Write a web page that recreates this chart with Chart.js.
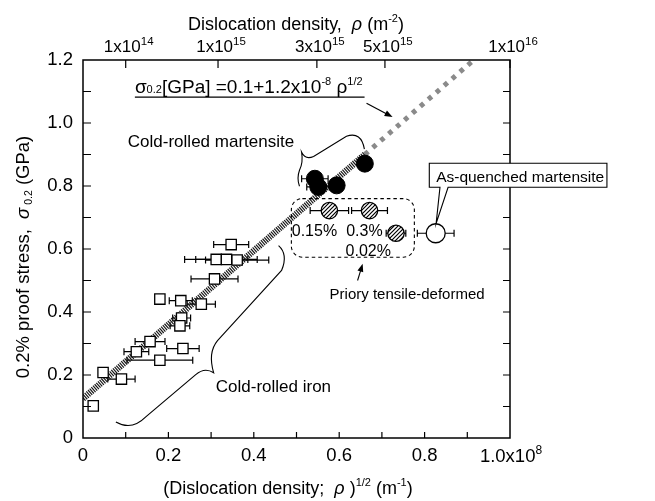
<!DOCTYPE html>
<html>
<head>
<meta charset="utf-8">
<script src="https://cdn.jsdelivr.net/npm/chart.js"></script>
<style>
  body { margin: 0; background: #fff; }
  canvas { display: block; }
</style>
</head>
<body>
<canvas id="c" width="655" height="501"></canvas>
<script>
// x in units of 1e8 m^-1, y in GPa
const ironX = [0.024, 0.047, 0.090, 0.125, 0.157, 0.180, 0.234, 0.180, 0.229, 0.277, 0.231, 0.227, 0.308, 0.312, 0.336, 0.361, 0.347];
const ironY = [0.102, 0.208, 0.187, 0.274, 0.306, 0.247, 0.284, 0.441, 0.436, 0.425, 0.381, 0.356, 0.505, 0.567, 0.567, 0.565, 0.614];
const ironErr = [0, 0, 0.032, 0.029, 0.035, 0.077, 0.038, 0, 0.027, 0.033, 0.021, 0.023, 0.055, 0.074, 0.072, 0.074, 0.041];

const martX = [0.543, 0.551, 0.594, 0.660];
const martY = [0.823, 0.797, 0.802, 0.871];
const martErr = [0.031, 0.027, 0, 0];

const tensX = [0.577, 0.671, 0.733];
const tensY = [0.722, 0.722, 0.650];
const tensErr = [0.045, 0.042, 0.023];
const tensLabels = ['0.15%', '0.3%', '0.02%'];
const tensLabelPos = [[0.542, 0.640], [0.659, 0.640], [0.668, 0.578]];

const quenchX = [0.826];
const quenchY = [0.650];
const quenchErr = [0.043];

// fit line sigma = 0.1 + 1.2e-8 rho^1/2 as drawn
const fitDenseX = [0, 0.66];
const fitDenseY = [0.125, 0.900];
const fitSparseX = [0.66, 0.915];
const fitSparseY = [0.900, 1.200];

const yTicks = [0, 0.2, 0.4, 0.6, 0.8, 1.0, 1.2];
const xTicks = [0, 0.2, 0.4, 0.6, 0.8, 1.0];
const topDensity = [1e14, 1e15, 3e15, 5e15, 1e16];
const topLabels = [['1x10', '14'], ['1x10', '15'], ['3x10', '15'], ['5x10', '15'], ['1x10', '16']];
const topPos = topDensity.map(d => Math.sqrt(d) / 1e8);

const FONT = '"Liberation Sans", Arial, sans-serif';

function pts(xs, ys) { return xs.map((x, i) => ({x: x, y: ys[i]})); }

function hatch() {
  const c = document.createElement('canvas');
  c.width = c.height = 4;
  const g = c.getContext('2d');
  g.fillStyle = '#fff';
  g.fillRect(0, 0, 4, 4);
  g.strokeStyle = '#000';
  g.lineWidth = 1.2;
  g.beginPath();
  g.moveTo(0, 4); g.lineTo(4, 0);
  g.moveTo(-1, 1); g.lineTo(1, -1);
  g.moveTo(3, 5); g.lineTo(5, 3);
  g.stroke();
  return g.createPattern(c, 'repeat');
}

function T(t, s, dy, it) { return {t: t, s: s, dy: dy || 0, it: !!it}; }

function rich(ctx, parts, x, y, align) {
  let w = 0;
  parts.forEach(p => {
    ctx.font = (p.it ? 'italic ' : '') + p.s + 'px ' + FONT;
    p.w = ctx.measureText(p.t).width;
    w += p.w;
  });
  let cx = align === 'center' ? x - w / 2 : align === 'right' ? x - w : x;
  ctx.textAlign = 'left';
  ctx.textBaseline = 'alphabetic';
  parts.forEach(p => {
    ctx.font = (p.it ? 'italic ' : '') + p.s + 'px ' + FONT;
    ctx.fillText(p.t, cx, y + p.dy);
    cx += p.w;
  });
  return w;
}

function arrow(ctx, x1, y1, x2, y2) {
  const a = Math.atan2(y2 - y1, x2 - x1);
  ctx.beginPath();
  ctx.moveTo(x1, y1);
  ctx.lineTo(x2 - 6 * Math.cos(a), y2 - 6 * Math.sin(a));
  ctx.stroke();
  ctx.beginPath();
  ctx.moveTo(x2, y2);
  ctx.lineTo(x2 - 8 * Math.cos(a) + 3 * Math.sin(a), y2 - 8 * Math.sin(a) - 3 * Math.cos(a));
  ctx.lineTo(x2 - 8 * Math.cos(a) - 3 * Math.sin(a), y2 - 8 * Math.sin(a) + 3 * Math.cos(a));
  ctx.closePath();
  ctx.fill();
}

const errorBars = {
  id: 'errorBars',
  beforeDatasetsDraw(chart) {
    const ctx = chart.ctx, xs = chart.scales.x, ys = chart.scales.y;
    const sets = [[ironX, ironY, ironErr], [martX, martY, martErr], [tensX, tensY, tensErr], [quenchX, quenchY, quenchErr]];
    ctx.save();
    ctx.strokeStyle = '#000';
    ctx.lineWidth = 1.2;
    sets.forEach(s => {
      s[0].forEach((x, i) => {
        const e = s[2][i];
        if (!e) return;
        const py = ys.getPixelForValue(s[1][i]);
        const a = xs.getPixelForValue(x - e), b = xs.getPixelForValue(x + e);
        ctx.beginPath();
        ctx.moveTo(a, py); ctx.lineTo(b, py);
        ctx.moveTo(a, py - 3.5); ctx.lineTo(a, py + 3.5);
        ctx.moveTo(b, py - 3.5); ctx.lineTo(b, py + 3.5);
        ctx.stroke();
      });
    });
    ctx.restore();
  }
};

const decorations = {
  id: 'decorations',
  afterDraw(chart) {
    const ctx = chart.ctx, xs = chart.scales.x, ys = chart.scales.y, x2 = chart.scales.x2;
    const ca = chart.chartArea;
    const X = v => xs.getPixelForValue(v), Y = v => ys.getPixelForValue(v);
    ctx.save();
    ctx.strokeStyle = '#000';
    ctx.fillStyle = '#000';

    // frame and inward ticks
    ctx.lineWidth = 1.5;
    ctx.strokeRect(ca.left, ca.top, ca.right - ca.left, ca.bottom - ca.top);
    ctx.lineWidth = 1.2;
    ctx.beginPath();
    for (let k = 1; k < 12; k++) {
      const py = Y(k / 10);
      ctx.moveTo(ca.left, py); ctx.lineTo(ca.left + 8, py);
      ctx.moveTo(ca.right, py); ctx.lineTo(ca.right - 7, py);
    }
    for (let k = 1; k < 10; k++) {
      const px = X(k / 10);
      ctx.moveTo(px, ca.bottom); ctx.lineTo(px, ca.bottom - 6);
    }
    topPos.forEach(v => {
      const px = x2.getPixelForValue(v);
      ctx.moveTo(px, ca.top); ctx.lineTo(px, ca.top + 8);
    });
    ctx.stroke();

    // top axis labels and titles
    topPos.forEach((v, i) => {
      rich(ctx, [T(topLabels[i][0], 17), T(topLabels[i][1], 11.5, -7)], x2.getPixelForValue(v) + 3, ca.top - 8, 'center');
    });
    rich(ctx, [T('1.0x10', 18.5), T('8', 12, -8)], X(1.0) + 1, ca.bottom + 24, 'center');
    rich(ctx, [T('Dislocation density,  ', 18), T('ρ', 18, 0, true), T(' (m', 18), T('-2', 11, -8), T(')', 18)], 296, 30, 'center');
    rich(ctx, [T('(Dislocation density;  ', 18), T('ρ', 18, 0, true), T(' )', 18), T('1/2', 11, -8), T(' (m', 18), T('-1', 11, -8), T(')', 18)], 288, 494, 'center');
    ctx.save();
    ctx.translate(29, 257);
    ctx.rotate(-Math.PI / 2);
    rich(ctx, [T('0.2% proof stress,  ', 18.5), T('σ', 18.5, 0, true), T(' 0.2', 10.5, 3), T(' (GPa)', 18.5)], 0, 0, 'center');
    ctx.restore();

    // formula
    const fw = rich(ctx, [T('σ', 19), T('0.2', 11, 0), T('[GPa] =0.1+1.2x10', 19), T('-8', 11, -8), T(' ρ', 19), T('1/2', 11, -8)], X(0.1215), Y(1.095), 'left');
    ctx.lineWidth = 1.2;
    ctx.beginPath();
    ctx.moveTo(X(0.1215), Y(1.082)); ctx.lineTo(X(0.1215) + fw + 2, Y(1.082));
    ctx.stroke();
    arrow(ctx, X(0.664), Y(1.063), X(0.725), Y(1.019));

    // cold-rolled martensite
    rich(ctx, [T('Cold-rolled martensite', 17)], X(0.105), Y(0.923), 'left');
    ctx.lineWidth = 1.1;
    ctx.beginPath();
    ctx.moveTo(X(0.659), Y(0.917));
    ctx.quadraticCurveTo(X(0.652), Y(0.974), X(0.617), Y(0.958));
    ctx.lineTo(X(0.540), Y(0.894));
    ctx.quadraticCurveTo(X(0.521), Y(0.882), X(0.512), Y(0.907));
    ctx.quadraticCurveTo(X(0.516), Y(0.875), X(0.507), Y(0.850));
    ctx.quadraticCurveTo(X(0.500), Y(0.824), X(0.507), Y(0.799));
    ctx.stroke();

    // cold-rolled iron
    rich(ctx, [T('Cold-rolled iron', 17)], X(0.311), Y(0.146), 'left');
    ctx.beginPath();
    ctx.moveTo(X(0.458), Y(0.611));
    ctx.quadraticCurveTo(X(0.481), Y(0.583), X(0.465), Y(0.532));
    ctx.lineTo(X(0.315), Y(0.309));
    ctx.quadraticCurveTo(X(0.292), Y(0.271), X(0.306), Y(0.207));
    ctx.quadraticCurveTo(X(0.285), Y(0.226), X(0.264), Y(0.201));
    ctx.lineTo(X(0.147), Y(0.067));
    ctx.quadraticCurveTo(X(0.114), Y(0.022), X(0.077), Y(0.051));
    ctx.stroke();

    // priory tensile-deformed group
    tensLabels.forEach((t, i) => rich(ctx, [T(t, 16)], X(tensLabelPos[i][0]), Y(tensLabelPos[i][1]), 'center'));
    ctx.setLineDash([3.5, 3]);
    ctx.beginPath();
    ctx.roundRect(X(0.488), Y(0.760), X(0.776) - X(0.488), Y(0.574) - Y(0.760), 11);
    ctx.stroke();
    ctx.setLineDash([]);
    arrow(ctx, X(0.643), Y(0.500), X(0.655), Y(0.553));
    rich(ctx, [T('Priory tensile-deformed', 15)], X(0.759), Y(0.440), 'center');

    // as-quenched callout
    ctx.beginPath();
    ctx.moveTo(X(0.811), Y(0.872));
    ctx.lineTo(X(1.227), Y(0.872));
    ctx.lineTo(X(1.227), Y(0.796));
    ctx.lineTo(X(0.855), Y(0.796));
    ctx.lineTo(X(0.827), Y(0.681));
    ctx.lineTo(X(0.836), Y(0.796));
    ctx.lineTo(X(0.811), Y(0.796));
    ctx.closePath();
    ctx.fillStyle = '#fff';
    ctx.fill();
    ctx.stroke();
    ctx.fillStyle = '#000';
    rich(ctx, [T('As-quenched martensite', 15.5)], X(0.827), Y(0.812), 'left');
    ctx.restore();
  }
};

new Chart(document.getElementById('c'), {
  type: 'scatter',
  data: {
    datasets: [
      {data: pts(ironX, ironY), pointStyle: 'rect', pointRadius: 7.3, pointBackgroundColor: '#fff', pointBorderColor: '#000', pointBorderWidth: 1.3},
      {data: pts(martX, martY), pointStyle: 'circle', pointRadius: 8.5, pointBackgroundColor: '#000', pointBorderColor: '#000', pointBorderWidth: 1},
      {data: pts(tensX, tensY), pointStyle: 'circle', pointRadius: 8.2, pointBackgroundColor: hatch(), pointBorderColor: '#000', pointBorderWidth: 1.3},
      {data: pts(quenchX, quenchY), pointStyle: 'circle', pointRadius: 9.5, pointBackgroundColor: '#fff', pointBorderColor: '#000', pointBorderWidth: 1.3},
      {type: 'line', data: pts(fitDenseX, fitDenseY), borderColor: '#1a1a1a', borderWidth: 6.5, borderDash: [1.2, 1], borderCapStyle: 'butt', pointRadius: 0, fill: false},
      {type: 'line', data: pts(fitSparseX, fitSparseY), borderColor: '#8a8a8a', borderWidth: 5, borderDash: [4.5, 6], borderCapStyle: 'butt', pointRadius: 0, fill: false}
    ]
  },
  options: {
    responsive: false,
    animation: false,
    layout: {padding: {left: 0, right: 145, top: 0, bottom: 0}},
    plugins: {legend: {display: false}, tooltip: {enabled: false}},
    scales: {
      x: {
        type: 'linear', position: 'bottom', min: 0, max: 1,
        afterBuildTicks: s => { s.ticks = xTicks.map(v => ({value: v})); },
        ticks: {color: '#000', font: {size: 18.5, family: FONT}, padding: 7, maxRotation: 0, autoSkip: false,
          callback: v => v === 0 ? '0' : v >= 1 ? '' : v.toFixed(1)},
        grid: {display: false, drawTicks: false},
        border: {display: false},
        afterFit: s => { s.height = 63; }
      },
      x2: {
        type: 'linear', position: 'top', min: 0, max: 1,
        ticks: {display: false},
        grid: {display: false, drawTicks: false},
        border: {display: false},
        afterFit: s => { s.height = 60; }
      },
      y: {
        type: 'linear', min: 0, max: 1.2,
        afterBuildTicks: s => { s.ticks = yTicks.map(v => ({value: v})); },
        ticks: {color: '#000', font: {size: 18.5, family: FONT}, padding: 10,
          callback: v => v === 0 ? '0' : v.toFixed(1)},
        grid: {display: false, drawTicks: false},
        border: {display: false},
        afterFit: s => { s.width = 83; }
      }
    }
  },
  plugins: [errorBars, decorations]
});
</script>
</body>
</html>
